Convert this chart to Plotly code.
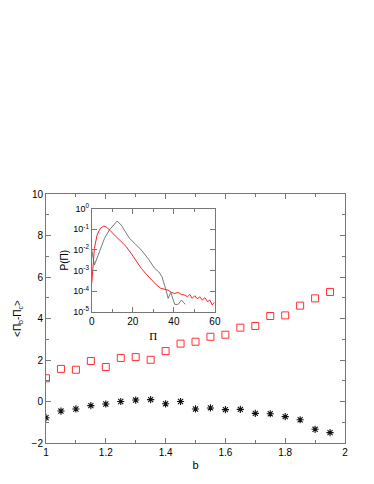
import plotly.graph_objects as go

# main panel: <Pi_b - Pi_c> against b
b_vals = [1.0, 1.05, 1.1, 1.15, 1.2, 1.25, 1.3, 1.35, 1.4, 1.45,
          1.5, 1.55, 1.6, 1.65, 1.7, 1.75, 1.8, 1.85, 1.9, 1.95]
squares = [1.12, 1.57, 1.53, 1.95, 1.66, 2.10, 2.14, 2.01, 2.43, 2.79,
           2.88, 3.12, 3.22, 3.56, 3.64, 4.12, 4.15, 4.62, 4.97, 5.28]
stars = [-0.78, -0.46, -0.36, -0.20, -0.12, 0.0, 0.07, 0.09, -0.11, 0.0,
         -0.36, -0.31, -0.39, -0.38, -0.57, -0.59, -0.73, -0.88, -1.34, -1.50]
b_ticks = [1, 1.2, 1.4, 1.6, 1.8, 2]
b_ticktext = ["1", "1.2", "1.4", "1.6", "1.8", "2"]

# inset: P(Pi), given as log10 values
pi_black = [0, 1.3, 3.75, 6.2, 8.6, 11.1, 12.4, 14.3, 16.8, 18.4, 20.9, 24.1,
            27.4, 30.6, 32.6, 34.2, 35.9, 37.2, 38.5, 40.4, 42.1, 43.7, 45.6]
logp_black = [-2.0, -2.73, -2.09, -1.44, -1.03, -0.71, -0.60, -0.79, -1.19, -1.44,
              -1.68, -2.0, -2.41, -2.89, -3.06, -3.30, -3.86, -4.35, -4.06, -4.64,
              -4.64, -4.43, -4.64]
pi_red = [0, 0.65, 1.3, 2.6, 4.2, 5.9, 7.5, 9.5, 11.9, 14.3, 16.8, 19.2, 21.7,
          24.1, 26.6, 29.1, 31.5, 33.6, 35.2, 37.2, 38.8, 40.4, 42.1, 43.7, 45.3,
          46.6, 47.8, 48.9, 50.2, 51.5, 52.6, 53.8, 55.1, 56.4, 57.5, 58.7, 59.7]
logp_red = [-3.62, -2.73, -1.92, -1.28, -0.95, -0.84, -0.92, -1.12, -1.36, -1.57,
            -1.84, -2.17, -2.57, -2.89, -3.18, -3.46, -3.70, -3.86, -3.90, -3.95,
            -4.06, -4.11, -4.06, -4.16, -4.19, -4.27, -4.16, -4.35, -4.22, -4.38,
            -4.27, -4.43, -4.32, -4.51, -4.43, -4.67, -4.54]
inset_decades = [0, -1, -2, -3, -4, -5]

font = "Liberation Sans, Arial, sans-serif"
axcol = "#777"

fig = go.Figure()
fig.add_scatter(x=b_vals, y=squares, mode="markers",
                marker=dict(symbol="square-open", size=7, color="#ff3030",
                            line=dict(width=1)))
fig.add_scatter(x=b_vals, y=stars, mode="markers",
                marker=dict(symbol="asterisk-open", size=6, color="#111",
                            line=dict(width=1.1, color="#111")))
fig.add_scatter(x=pi_black, y=[10 ** v for v in logp_black], mode="lines",
                line=dict(color="#555", width=0.8), xaxis="x2", yaxis="y2")
fig.add_scatter(x=pi_red, y=[10 ** v for v in logp_red], mode="lines",
                line=dict(color="#ff2020", width=1), xaxis="x2", yaxis="y2")

common = dict(showline=True, linecolor=axcol, linewidth=1, mirror="ticks",
              ticks="inside", ticklen=5, tickcolor=axcol, showgrid=False,
              zeroline=False, automargin=False,
              tickfont=dict(size=10, color="black"))

fig.update_layout(
    width=374, height=484,
    margin=dict(l=46, r=29, t=194, b=41),
    paper_bgcolor="white", plot_bgcolor="white",
    showlegend=False,
    font=dict(family=font, size=10, color="black"),
    xaxis=dict(range=[1, 2], tickvals=b_ticks, ticktext=b_ticktext,
               minor=dict(dtick=0.1, ticks="inside", ticklen=3, tickcolor=axcol),
               title=dict(text="b", font=dict(size=11), standoff=4), **common),
    yaxis=dict(range=[-2, 10], dtick=2,
               minor=dict(dtick=1, ticks="inside", ticklen=3, tickcolor=axcol),
               title=dict(text="&lt;Π<sub>b</sub>-Π<sub>c</sub>&gt;",
                          font=dict(size=10), standoff=8), **common),
    xaxis2=dict(domain=[0.153, 0.565], anchor="y2", range=[0, 60],
                tickvals=[0, 20, 40, 60],
                minor=dict(dtick=10, ticks="inside", ticklen=3, tickcolor=axcol),
                title=dict(text="Π", font=dict(size=11, family="Liberation Serif, serif"),
                           standoff=6),
                **common),
    yaxis2=dict(domain=[0.527, 0.941], anchor="x2", type="log", range=[-5, 0],
                tickvals=[10 ** d for d in inset_decades],
                ticktext=[f"10<sup>{d}</sup>" for d in inset_decades],
                title=dict(text="P(Π)", font=dict(size=10), standoff=2),
                **common),
)
fig.update_layout(xaxis2_tickfont_size=10, yaxis2_tickfont_size=9)

# drop the page's default body margin so the figure sits at the corner
fig.write_html("out.html", config={"displayModeBar": False},
               post_script="document.body.style.margin='0';")
